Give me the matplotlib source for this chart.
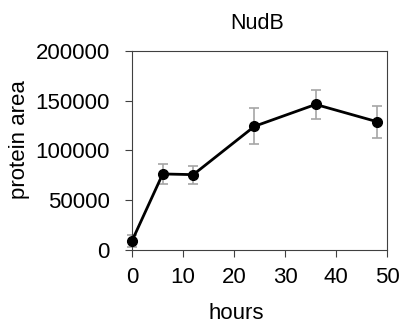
import matplotlib.pyplot as plt

plt.rcParams['font.family'] = ['Liberation Sans', 'DejaVu Sans']

# data
hours = [0, 6, 12, 24, 36, 48]
area = [9300, 76400, 75700, 124300, 146300, 129000]
err = [6000, 10500, 9000, 18000, 14500, 16000]

fig = plt.figure(figsize=(4.04, 3.25), dpi=100)
ax = fig.add_axes([0.327, 0.231, 0.631, 0.612])

ax.errorbar(hours, area, yerr=err, fmt='none', ecolor='#a6a6a6',
            elinewidth=1.2, capsize=3.5, capthick=1.2, clip_on=False, zorder=2)
ax.plot(hours, area, color='black', linewidth=2, marker='o', markersize=7,
        clip_on=False, zorder=3)

ax.set_xlim(0, 50)
ax.set_ylim(0, 200000)
ax.set_xticks([0, 10, 20, 30, 40, 50])
ax.set_yticks([0, 50000, 100000, 150000, 200000])
ax.tick_params(labelsize=16, length=5, width=0.8, color='#404040')
ax.tick_params(axis='x', pad=7)
ax.tick_params(axis='y', pad=11)
for s in ax.spines.values():
    s.set_color('#404040')
    s.set_linewidth(0.8)

ax.set_title('NudB', fontsize=15.5, pad=16, x=0.49)
ax.set_xlabel('hours', fontsize=16)
ax.set_ylabel('protein area', fontsize=16)
ax.xaxis.set_label_coords(0.408, -0.265)
ax.yaxis.set_label_coords(-0.40, 0.553)

fig.savefig('out.png', dpi=100)
